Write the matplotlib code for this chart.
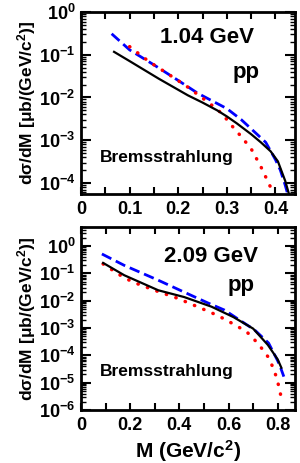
import matplotlib
matplotlib.use("Agg")
import matplotlib.pyplot as plt
from matplotlib.ticker import LogLocator, MultipleLocator, NullFormatter

plt.rcParams["font.family"] = ["Liberation Sans", "DejaVu Sans"]
plt.rcParams["font.weight"] = "bold"
plt.rcParams["mathtext.fontset"] = "custom"
plt.rcParams["mathtext.rm"] = "Liberation Sans:bold"
plt.rcParams["mathtext.it"] = "Liberation Sans:bold"
plt.rcParams["mathtext.bf"] = "Liberation Sans:bold"

# --- 1.04 GeV pp ---
m_blue_1 = [0.063, 0.10, 0.15, 0.20, 0.24, 0.27, 0.30, 0.33, 0.36, 0.38, 0.39, 0.40, 0.41, 0.42, 0.43, 0.436]
blue_1 = [0.31, 0.13, 0.058, 0.025, 0.0126, 0.0083, 0.0055, 0.0030, 0.00145, 8.9e-4, 5.6e-4, 3.5e-4, 2.0e-4, 8.9e-5, 3.5e-5, 2.5e-5]
m_red_1 = [0.10, 0.14, 0.18, 0.22, 0.265, 0.29, 0.31, 0.33, 0.35, 0.37, 0.39, 0.40]
red_1 = [0.155, 0.069, 0.035, 0.0174, 0.0072, 0.0042, 0.0022, 0.0012, 6.3e-4, 2.4e-4, 7.9e-5, 4.0e-5]
m_black_1 = [0.068, 0.10, 0.16, 0.22, 0.25, 0.28, 0.30, 0.32, 0.35, 0.37, 0.39, 0.405, 0.42, 0.43]
black_1 = [0.117, 0.071, 0.0275, 0.0112, 0.0076, 0.0050, 0.0036, 0.0025, 0.00138, 8.9e-4, 5.5e-4, 3.2e-4, 1.12e-4, 4.5e-5]

# --- 2.09 GeV pp ---
m_blue_2 = [0.085, 0.176, 0.314, 0.42, 0.518, 0.584, 0.645, 0.706, 0.763, 0.80, 0.812, 0.825]
blue_2 = [0.51, 0.195, 0.056, 0.0204, 0.0081, 0.0045, 0.00195, 8.5e-4, 2.8e-4, 6.3e-5, 3.5e-5, 1.66e-5]
m_red_2 = [0.09, 0.17, 0.211, 0.299, 0.395, 0.442, 0.49, 0.537, 0.585, 0.626, 0.673, 0.707, 0.735, 0.762, 0.782, 0.796, 0.807, 0.816]
red_2 = [0.22, 0.074, 0.048, 0.024, 0.012, 0.0079, 0.0052, 0.0034, 0.0021, 0.00129, 7.4e-4, 3.6e-4, 1.8e-4, 8.5e-5, 3.4e-5, 1.48e-5, 5.9e-6, 2.4e-6]
m_black_2 = [0.09, 0.176, 0.314, 0.42, 0.531, 0.62, 0.70, 0.76, 0.80, 0.815]
black_2 = [0.24, 0.085, 0.024, 0.0135, 0.006, 0.0025, 9.5e-4, 2.4e-4, 7.1e-5, 3.5e-5]

ylabel = r"d$\sigma$/dM [$\mu$b/(GeV/c$^{2}$)]"


def style_axes(ax, xmaj, xmin):
    ax.set_yscale("log")
    ax.xaxis.set_major_locator(MultipleLocator(xmaj))
    ax.xaxis.set_minor_locator(MultipleLocator(xmin))
    ax.xaxis.set_major_formatter(plt.FuncFormatter(lambda v, p: "0" if abs(v) < 1e-9 else f"{v:.1f}"))
    ax.yaxis.set_major_locator(LogLocator(base=10, numticks=20))
    ax.yaxis.set_minor_locator(LogLocator(base=10, subs=range(2, 10), numticks=20))
    ax.yaxis.set_minor_formatter(NullFormatter())
    ax.tick_params(which="both", direction="in", top=True, right=True, width=1.5,
                   labelsize=13)
    ax.tick_params(axis="y", which="major", length=7, pad=4)
    ax.tick_params(axis="y", which="minor", length=3.5, width=1.0)
    ax.tick_params(axis="x", which="both", length=5, pad=5)
    for s in ax.spines.values():
        s.set_linewidth(2)
    ax.set_ylabel(ylabel, fontsize=12.5, fontweight="bold", labelpad=1)


def draw(ax, mb, vb, mr, vr, mk, vk):
    ax.plot(mb, vb, color="blue", lw=2, ls=(0, (3.8, 1.8)))
    ax.plot(mr, vr, color="red", lw=2.5, ls=(0, (0.1, 2.8)), dash_capstyle="round")
    ax.plot(mk, vk, color="black", lw=1.6)


def add_labels(ax, energy, pos_e, pos_pp, pos_b):
    ax.text(*pos_e, energy, transform=ax.transAxes, ha="center", va="center",
            fontsize=16, fontweight="bold")
    ax.text(*pos_pp, "pp", transform=ax.transAxes, ha="center", va="center",
            fontsize=16, fontweight="bold")
    ax.text(*pos_b, "Bremsstrahlung", transform=ax.transAxes, ha="center", va="center",
            fontsize=12.5, fontweight="bold")


fig = plt.figure(figsize=(3.0, 4.63), dpi=100)

ax1 = fig.add_axes([0.27, 0.581, 0.713, 0.393])
draw(ax1, m_blue_1, blue_1, m_red_1, red_1, m_black_1, black_1)
ax1.set_xlim(0, 0.44)
ax1.set_ylim(5.5e-5, 1.0)
style_axes(ax1, 0.1, 0.05)
add_labels(ax1, "1.04 GeV", (0.59, 0.86), (0.77, 0.67), (0.40, 0.20))

ax2 = fig.add_axes([0.27, 0.1145, 0.713, 0.3955])
draw(ax2, m_blue_2, blue_2, m_red_2, red_2, m_black_2, black_2)
ax2.set_xlim(0, 0.87)
ax2.set_ylim(1e-6, 5.0)
style_axes(ax2, 0.2, 0.1)
ax2.set_xlabel(r"M (GeV/c$^{2}$)", fontsize=15, fontweight="bold", labelpad=3)
add_labels(ax2, "2.09 GeV", (0.61, 0.84), (0.75, 0.68), (0.40, 0.21))

fig.savefig("out.png", dpi=100)
